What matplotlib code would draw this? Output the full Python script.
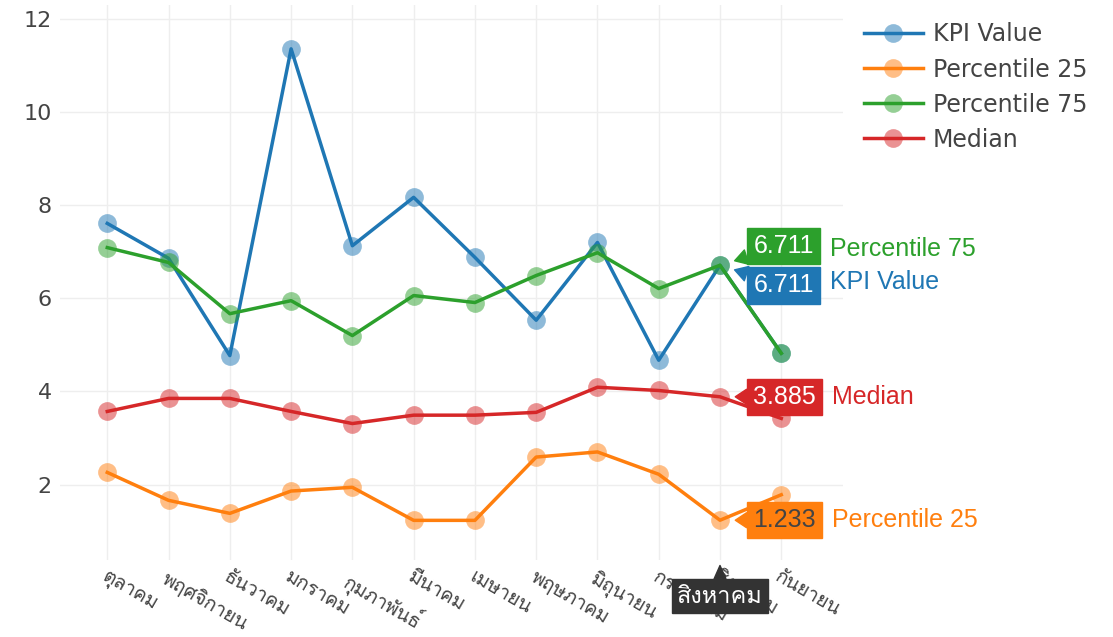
import matplotlib
matplotlib.use("Agg")
import matplotlib.pyplot as plt
from matplotlib import font_manager
from matplotlib.ft2font import FT2Font
from matplotlib.colors import to_rgba

months = ["ตุลาคม", "พฤศจิกายน", "ธันวาคม", "มกราคม", "กุมภาพันธ์", "มีนาคม",
          "เมษายน", "พฤษภาคม", "มิถุนายน", "กรกฎาคม", "สิงหาคม", "กันยายน"]
kpi_value = [7.61, 6.86, 4.77, 11.36, 7.13, 8.17, 6.88, 5.53, 7.20, 4.67, 6.711, 4.82]
percentile_25 = [2.26, 1.66, 1.38, 1.86, 1.94, 1.23, 1.23, 2.59, 2.70, 2.22, 1.233, 1.78]
percentile_75 = [7.09, 6.77, 5.67, 5.95, 5.20, 6.06, 5.91, 6.49, 6.98, 6.21, 6.711, 4.82]
median = [3.57, 3.85, 3.85, 3.57, 3.31, 3.49, 3.49, 3.55, 4.09, 4.02, 3.885, 3.42]
hover_idx = 10
yticks = [2, 4, 6, 8, 10, 12]


def find_thai_font():
    # look for any installed font that has Thai glyphs
    for f in font_manager.fontManager.ttflist:
        try:
            cmap = FT2Font(f.fname).get_charmap()
        except Exception:
            continue
        if 0x0E01 in cmap and 0x0E21 in cmap and 0x0E32 in cmap:
            return f.name
    return None


thai = find_thai_font()
thai_family = [thai, "DejaVu Sans"] if thai else ["DejaVu Sans"]

series = [
    ("KPI Value", kpi_value, "#1f77b4", "white"),
    ("Percentile 25", percentile_25, "#ff7f0e", "#444444"),
    ("Percentile 75", percentile_75, "#2ca02c", "white"),
    ("Median", median, "#d62728", "white"),
]

fig = plt.figure(figsize=(11.13, 6.37), dpi=100)
ax = fig.add_axes([0.054, 0.121, 0.703, 0.871])
x = list(range(len(months)))

for name, vals, c, _ in series:
    ax.plot(x, vals, color=c, lw=2.5, marker="o", ms=13.5,
            mfc=to_rgba(c, 0.5), mec="none", label=name, zorder=3)

ax.set_xlim(-0.77, 12.0)
ax.set_ylim(0.38, 12.3)
ax.set_yticks(yticks)
ax.set_xticks(x)
ax.set_xticklabels(months, rotation=-30, ha="left", va="top",
                   rotation_mode="anchor", family=thai_family, fontsize=14)
ax.tick_params(axis="both", length=0, labelcolor="#444444")
ax.tick_params(axis="x", pad=6)
ax.tick_params(axis="y", pad=6, labelsize=16)
for s in ax.spines.values():
    s.set_visible(False)
ax.grid(True, color="#eeeeee", lw=1)
ax.set_axisbelow(True)

leg = ax.legend(loc="upper left", bbox_to_anchor=(1.0, 1.007), frameon=False,
                fontsize=17, handlelength=2.5, handletextpad=0.42,
                labelspacing=0.47, labelcolor="#444444")

# hover labels at the hovered month
offsets = {"Percentile 75": 14, "KPI Value": -14.5, "Median": 0, "Percentile 25": 0}
for name, vals, c, tc in series:
    v = vals[hover_idx]
    ann = ax.annotate(f"{v:.3f}", xy=(hover_idx, v), xytext=(24, offsets[name]),
                      textcoords="offset points", ha="left", va="center",
                      fontsize=18, color=tc, family="Liberation Sans", zorder=6,
                      bbox=dict(boxstyle="square,pad=0.25", fc=c, ec=c),
                      arrowprops=dict(arrowstyle="wedge,tail_width=0.6", fc=c,
                                      ec=c, shrinkA=0, shrinkB=11))
    ax.annotate(name, xy=(1, 0.5), xycoords=ann, xytext=(11.5, 0),
                textcoords="offset points", ha="left", va="center",
                fontsize=18, color=c, family="Liberation Sans", zorder=6)

# category hover tooltip below the axis
ax.annotate(months[hover_idx], xy=(hover_idx, 0), xycoords=("data", "axes fraction"),
            xytext=(0, -26), textcoords="offset points", ha="center", va="center",
            fontsize=17, color="white", family=thai_family, zorder=7,
            annotation_clip=False,
            bbox=dict(boxstyle="square,pad=0.22", fc="#333333", ec="#333333"),
            arrowprops=dict(arrowstyle="wedge,tail_width=0.5", fc="#333333",
                            ec="#333333", shrinkA=0, shrinkB=4))

fig.savefig("out.png", dpi=100, facecolor="white")
